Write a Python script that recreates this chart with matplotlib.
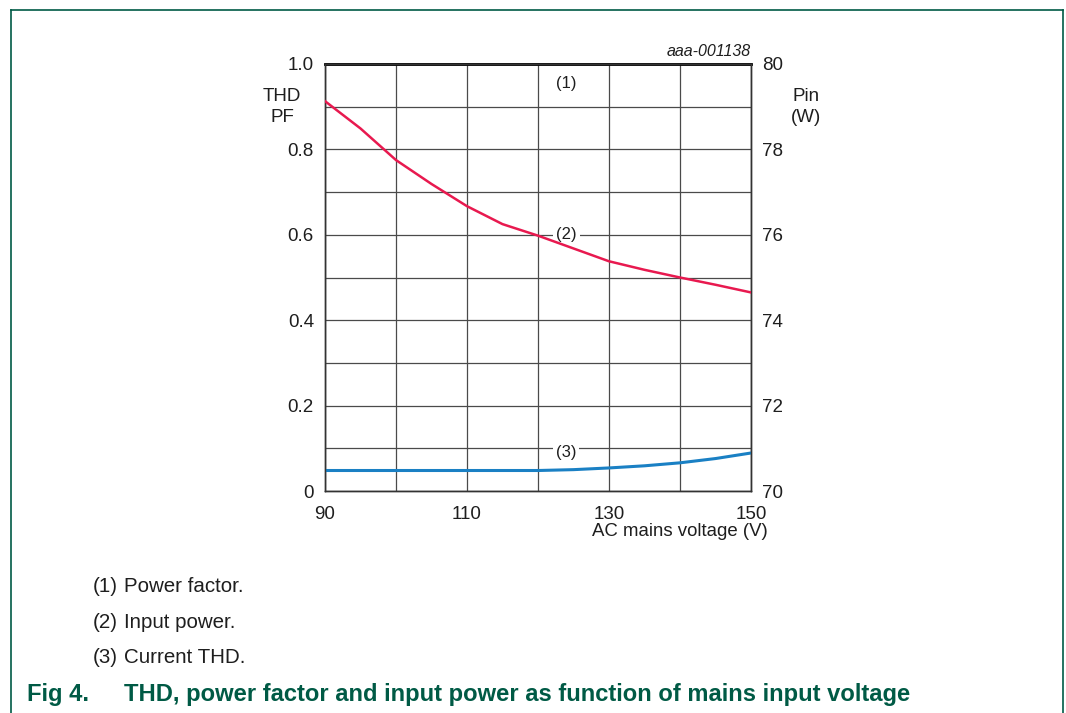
import matplotlib.pyplot as plt
from matplotlib.lines import Line2D

plt.rcParams['font.family'] = ['Liberation Sans', 'DejaVu Sans']

# data
voltage = [90, 95, 100, 105, 110, 115, 120, 125, 130, 135, 140, 145, 150]
power_factor = [1.0] * len(voltage)
input_power = [79.13, 78.49, 77.75, 77.19, 76.67, 76.25, 75.98, 75.68, 75.38, 75.18, 75.0, 74.83, 74.65]
current_thd = [0.048, 0.048, 0.048, 0.048, 0.048, 0.048, 0.048, 0.05, 0.054, 0.059, 0.066, 0.076, 0.089]

notes = ['Power factor.', 'Input power.', 'Current THD.']

W, H = 1066, 713
green = '#005a45'
red = '#e8194f'
blue = '#1a80c4'
grid_col = '#4a4a4a'
txt = '#1e1e1e'


def fx(x):
    return x / W


def fy(y):
    return 1 - y / H


fig = plt.figure(figsize=(W / 100, H / 100), dpi=100)
ax = fig.add_axes([fx(325), fy(491), (751 - 325) / W, (491 - 64) / H])
ax2 = ax.twinx()

ax.set_xlim(90, 150)
ax.set_ylim(0, 1.0)
ax2.set_ylim(70, 80)

ax.set_xticks([90, 110, 130, 150])
ax.set_xticks(range(90, 151, 10), minor=True)
ax.set_yticks([0, 0.2, 0.4, 0.6, 0.8, 1.0])
ax.set_yticklabels(['0', '0.2', '0.4', '0.6', '0.8', '1.0'])
ax.set_yticks([i / 10 for i in range(11)], minor=True)
ax2.set_yticks(range(70, 81, 2))

ax.grid(True, which='both', color=grid_col, lw=0.9)
ax.set_axisbelow(True)
for a in (ax, ax2):
    a.tick_params(which='both', length=0, labelsize=13.5, pad=8, labelcolor=txt)
    for s in a.spines.values():
        s.set_color('#333333')
        s.set_linewidth(1.0)
ax.tick_params(axis='x', pad=10.5)

ax.plot(voltage, power_factor, color='black', lw=2.0, clip_on=False, zorder=5)
ax.plot(voltage, current_thd, color=blue, lw=2.2, zorder=5)
ax2.plot(voltage, input_power, color=red, lw=1.8, zorder=5)

lab = dict(ha='center', va='center', fontsize=12, color=txt,
           bbox=dict(facecolor='white', edgecolor='none', pad=2))
ax.text(124, 0.955, '(1)', **lab)
ax.text(124, 0.6, '(2)', **lab)
ax.text(124, 0.09, '(3)', **lab)

fig.text(fx(751), fy(52), 'aaa-001138', ha='right', va='center', fontsize=11.5, style='italic', color=txt)
fig.text(fx(282), fy(107), 'THD\nPF', ha='center', va='center', fontsize=13.5, linespacing=1.3, color=txt)
fig.text(fx(806), fy(107), 'Pin\n(W)', ha='center', va='center', fontsize=13.5, linespacing=1.3, color=txt)
fig.text(fx(768), fy(532), 'AC mains voltage (V)', ha='right', va='center', fontsize=13.4, color=txt)

for i, note in enumerate(notes):
    y = fy(586.5 + i * 35.5)
    fig.text(fx(93), y, '({})'.format(i + 1), ha='left', va='center', fontsize=14.8, color=txt)
    fig.text(fx(124), y, note, ha='left', va='center', fontsize=14.8, color=txt)

fig.text(fx(27), fy(695), 'Fig 4.', ha='left', va='center', fontsize=17.1, weight='bold', color=green)
fig.text(fx(124), fy(695), 'THD, power factor and input power as function of mains input voltage',
         ha='left', va='center', fontsize=17.1, weight='bold', color=green)

# document frame
for xs, ys in [((11, 11), (713, 10)), ((11, 1063), (10, 10)), ((1063, 1063), (10, 713))]:
    fig.add_artist(Line2D([fx(v) for v in xs], [fy(v) for v in ys], color=green, lw=1.2))

fig.savefig('out.png', dpi=100)
